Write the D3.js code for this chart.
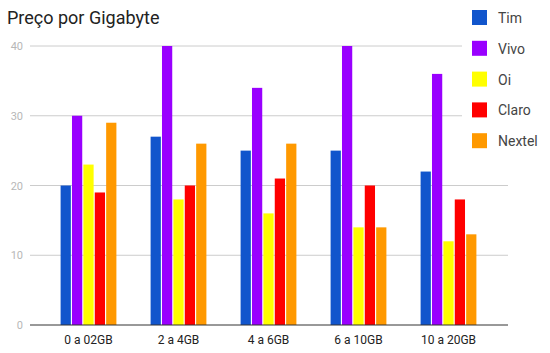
<!DOCTYPE html>
<html>
<head>
<meta charset="utf-8">
<script src="https://cdn.jsdelivr.net/npm/d3@7"></script>
<style>
body{margin:0;background:#fff;}
svg{font-family:Roboto,"Noto Sans",sans-serif;}
</style>
</head>
<body>
<div id="chart"></div>
<script>
var categories = ["0 a 02GB","2 a 4GB","4 a 6GB","6 a 10GB","10 a 20GB"];
var seriesNames = ["Tim","Vivo","Oi","Claro","Nextel"];
var tim = [20,27,25,25,22];
var vivo = [30,40,34,40,36];
var oi = [23,18,16,14,12];
var claro = [19,20,21,20,18];
var nextel = [29,26,26,14,13];
var yTicks = [0,10,20,30,40];
var colors = ["#1155cc","#9900ff","#ffff00","#ff0000","#ff9900"];

var values = [tim,vivo,oi,claro,nextel];

var w=550, h=353;
var svg = d3.select("#chart").append("svg")
    .attr("width",w).attr("height",h);

svg.append("text")
    .attr("x",7).attr("y",24)
    .style("font-size","18px")
    .style("fill","#222")
    .text("Preço por Gigabyte");

var yScale = d3.scaleLinear().domain([0,40]).range([325,46]);
var xScale = d3.scaleBand()
    .domain(categories)
    .range([43.5,493.5])
    .paddingInner(0.38)
    .paddingOuter(0.19);
var xInner = d3.scaleBand()
    .domain(seriesNames)
    .range([0,xScale.bandwidth()])
    .paddingInner(0.1);

// grid
svg.append("g").selectAll("line")
    .data(yTicks.filter(d=>d>0))
    .enter().append("line")
    .attr("x1",30).attr("x2",508)
    .attr("y1",d=>yScale(d)).attr("y2",d=>yScale(d))
    .style("stroke","#cccccc").style("stroke-width",1);

svg.append("g").selectAll("text")
    .data(yTicks)
    .enter().append("text")
    .attr("x",23).attr("y",d=>yScale(d)+4)
    .attr("text-anchor","end")
    .style("font-size","11px")
    .style("fill","#b7b7b7")
    .text(d=>d);

// bars
var groups = svg.selectAll("g.series")
    .data(seriesNames)
    .enter().append("g")
    .attr("class","series")
    .style("fill",(d,i)=>colors[i]);

groups.selectAll("rect")
    .data((d,i)=>values[i].map(v=>({name:d,v:v})))
    .enter().append("rect")
    .attr("x",(d,j)=>xScale(categories[j])+xInner(d.name))
    .attr("y",d=>yScale(d.v))
    .attr("width",xInner.bandwidth())
    .attr("height",d=>yScale(0)-yScale(d.v));

// baseline
svg.append("line")
    .attr("x1",30).attr("x2",508)
    .attr("y1",yScale(0)).attr("y2",yScale(0))
    .style("stroke","#333").style("stroke-width",1);

svg.append("g").selectAll("text")
    .data(categories)
    .enter().append("text")
    .attr("x",d=>xScale(d)+xScale.bandwidth()/2)
    .attr("y",344)
    .attr("text-anchor","middle")
    .style("font-size","12px")
    .style("fill","#222")
    .text(d=>d);

// legend
var legend = svg.append("g");
legend.append("rect")
    .attr("x",462).attr("y",0)
    .attr("width",88).attr("height",160)
    .style("fill","#fff");

seriesNames.forEach((name,i)=>{
    legend.append("rect")
        .attr("x",472).attr("y",10+i*30.8)
        .attr("width",15).attr("height",15)
        .style("fill",colors[i]);
    legend.append("text")
        .attr("x",498).attr("y",23+i*30.8)
        .style("font-size","14px")
        .style("fill","#444")
        .text(name);
});
</script>
</body>
</html>
